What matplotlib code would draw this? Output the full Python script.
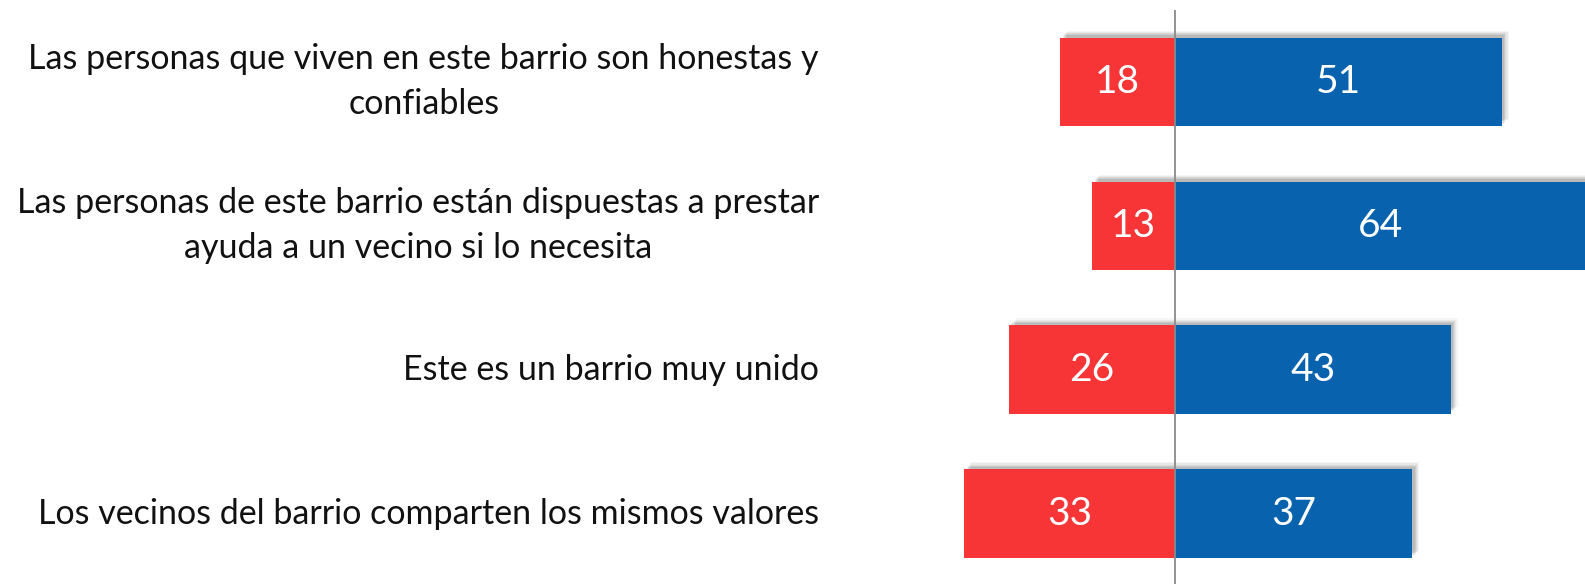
import matplotlib
matplotlib.use("Agg")
import matplotlib.pyplot as plt
import matplotlib.patheffects as pe

categories = [
    "Las personas que viven en este barrio son honestas y\nconfiables",
    "Las personas de este barrio están dispuestas a prestar\nayuda a un vecino si lo necesita",
    "Este es un barrio muy unido",
    "Los vecinos del barrio comparten los mismos valores",
]
negative = [18, 13, 26, 33]
positive = [51, 64, 43, 37]

RED = "#F73536"
BLUE = "#0862AE"
FONT = "Lato"

fig = plt.figure(figsize=(15.85, 5.84), dpi=100)
ax = fig.add_axes([900 / 1585, 0.0, 1 - 900 / 1585, (584 - 10) / 584])
ax.set_xlim(-43.0, 64.0)
ax.set_ylim(3.49, -0.5)
ax.axis("off")

ypos = list(range(len(categories)))
h = 0.615

shadow = [
    pe.SimplePatchShadow(offset=(o, o), shadow_rgbFace="black", alpha=a)
    for o, a in [(5.0, 0.04), (4.2, 0.05), (3.4, 0.06), (2.6, 0.07), (1.8, 0.08)]
] + [pe.Normal()]

neg_bars = ax.barh(ypos, [-v for v in negative], height=h, color=RED, zorder=2)
pos_bars = ax.barh(ypos, positive, height=h, color=BLUE, zorder=2)
for b in list(neg_bars) + list(pos_bars):
    b.set_path_effects(shadow)

ax.axvline(0, color="#8a8a8a", lw=1.3, zorder=3)

for y, n, p in zip(ypos, negative, positive):
    ax.text(-n / 2, y, f"{n}", ha="center", va="center", color="white",
            fontsize=28, family=FONT, zorder=4)
    ax.text(p / 2, y, f"{p}", ha="center", va="center", color="white",
            fontsize=28, family=FONT, zorder=4)

for y, lab in zip(ypos, categories):
    ax.text(-43.0 - (900 - 819) / 6.40, y, lab, ha="right", va="center",
            multialignment="center", fontsize=24.5, family=FONT,
            color="#111111", linespacing=1.5,
            zorder=4, clip_on=False)

fig.savefig("out.png", dpi=100)
